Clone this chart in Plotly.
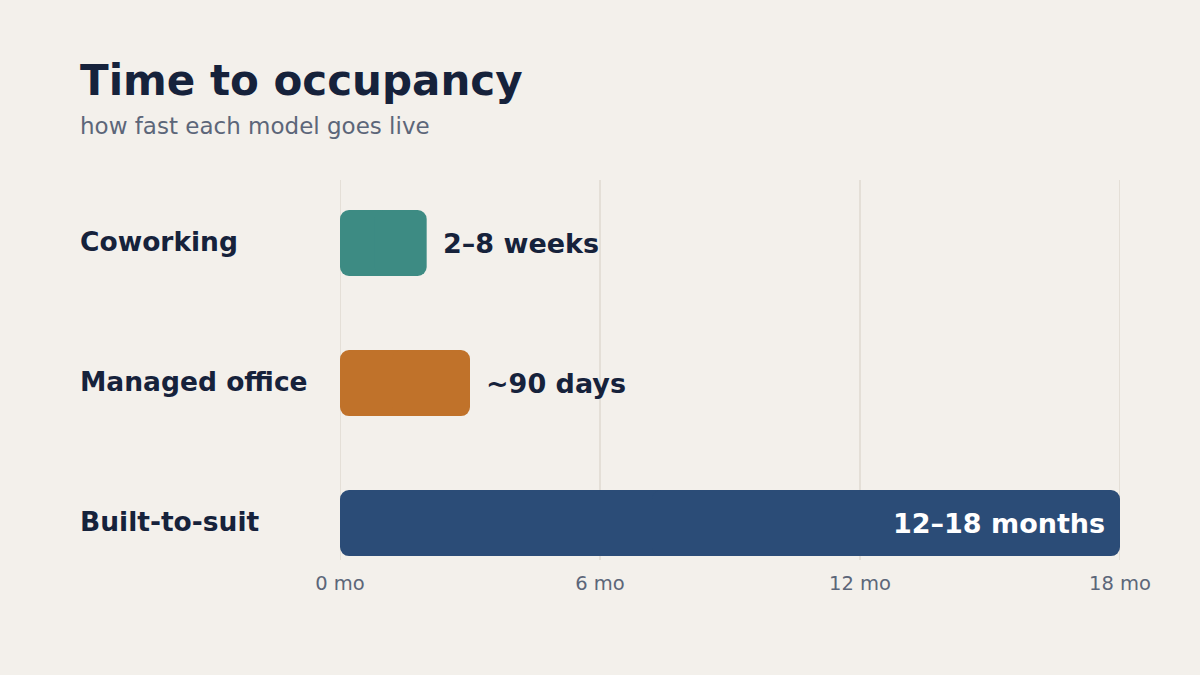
import plotly.graph_objects as go

categories = ["Coworking", "Managed office", "Built-to-suit"]
months = [2, 3, 18]
value_labels = ["2–8 weeks", "~90 days", "12–18 months"]
label_inside = [False, False, True]
colors = ["#3d8b83", "#c0722a", "#2b4c77"]
tick_vals = [0, 6, 12, 18]
tick_text = ["0 mo", "6 mo", "12 mo", "18 mo"]

BG = "#f3f0eb"
DARK = "#16223b"
GRAY = "#5c6679"
GRID = "#e4dfd7"
FONT = "DejaVu Sans"
BAR_W = 66 / 140

fig = go.Figure()
# each bar drawn as two overlapping pieces so both ends get rounded corners
left_base = [m * 0.6 for m in months]
left_len = [-m * 0.6 for m in months]
right_base = [m * 0.4 for m in months]
right_len = [m * 0.6 for m in months]
for base, length in ((left_base, left_len), (right_base, right_len)):
    fig.add_trace(go.Bar(y=categories, x=length, base=base, orientation="h",
                         marker=dict(color=colors, cornerradius=9, line=dict(width=0)),
                         width=BAR_W, hoverinfo="skip", showlegend=False))

shapes = [dict(type="line", x0=tv, x1=tv, xref="x", y0=0, y1=1, yref="paper",
               line=dict(color=GRID, width=2), layer="below") for tv in tick_vals]

annotations = []
for cat, m, lab, inside in zip(categories, months, value_labels, label_inside):
    annotations.append(dict(
        x=m, y=cat, xref="x", yref="y", text=lab, showarrow=False,
        xanchor="right" if inside else "left", xshift=-13 if inside else 14,
        yshift=0,
        font=dict(family=FONT, size=27, color="#ffffff" if inside else DARK, weight="bold"),
    ))
    annotations.append(dict(
        x=-0.3333, y=cat, xref="paper", yref="y", text=cat, showarrow=False,
        xanchor="left", xshift=-2, yshift=2,
        font=dict(family=FONT, size=26.5, color=DARK, weight="bold"),
    ))

annotations.append(dict(x=-0.3333, y=1.263, xref="paper", yref="paper", xshift=-2,
                        text="Time to occupancy", showarrow=False, xanchor="left", yanchor="middle",
                        font=dict(family=FONT, size=42, color=DARK, weight="bold")))
annotations.append(dict(x=-0.3333, y=1.139, xref="paper", yref="paper", xshift=-2, yshift=1,
                        text="how fast each model goes live", showarrow=False, xanchor="left",
                        yanchor="middle", font=dict(family=FONT, size=23, color=GRAY)))

fig.update_layout(
    width=1200, height=675,
    margin=dict(l=340, r=80, t=180, b=115),
    paper_bgcolor=BG, plot_bgcolor=BG,
    barmode="overlay",
    annotations=annotations,
    shapes=shapes,
    xaxis=dict(range=[0, 18], tickvals=tick_vals, ticktext=tick_text,
               showgrid=False, zeroline=False,
               showline=False, ticks="", ticklabelstandoff=9,
               tickfont=dict(family=FONT, size=19.5, color=GRAY)),
    yaxis=dict(categoryorder="array", categoryarray=categories, range=[2.264, -0.45],
               showticklabels=False, showgrid=False, zeroline=False, showline=False),
)

fig.write_html("out.html")
